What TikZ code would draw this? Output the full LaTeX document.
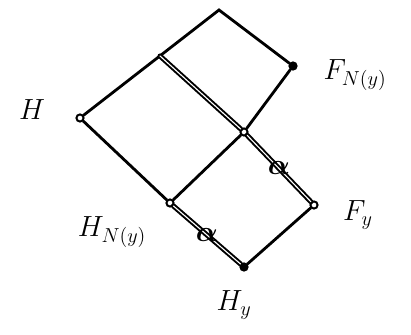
\documentclass[tikz,border=0pt]{standalone}
\usepackage{amsmath, amssymb}
\usetikzlibrary{positioning}
\tikzset{
  edge/.style={line width=2pt, line cap=round},
  markedge/.style={line width=1.4pt, line cap=round, double, double distance=0.8pt},
  vopen/.style={circle, draw, line width=1.4pt, fill=white, inner sep=1.8pt},
  vfull/.style={circle, draw, line width=1.4pt, fill=black, inner sep=1.8pt},
  vlabel/.style={font=\huge, inner sep=1pt},
  tag/.style={font=\huge\boldmath, inner sep=0pt}
}
\begin{document}
\begin{tikzpicture}[x=0.025cm, y=-0.025cm]
  \useasboundingbox (0,0) rectangle (411,334);
  % vertices
  \coordinate (top) at (219,10);
  \coordinate (p) at (160,56);
  \node[vopen] (h) at (80,118) {};
  \node[vfull] (fny) at (293,66) {};
  \node[vopen] (m) at (244,132) {};
  \node[vopen] (hny) at (170,203) {};
  \node[vopen] (fy) at (314,205) {};
  \node[vfull] (hy) at (244,267) {};
  % labels
  \node[vlabel] (lh) at (32,110) {$H$};
  \node[vlabel] (lfny) at (355,75) {$F_{N(y)}$};
  \node[vlabel] (lfy) at (358,215) {$F_y$};
  \node[vlabel] (lhny) at (112,232) {$H_{N(y)}$};
  \node[vlabel] (lhy) at (234,305) {$H_y$};
  % edges
  \draw[edge] (h) -- (top) -- (fny);
  \draw[edge] (fny) -- (m);
  \draw[edge] (h) -- (hny);
  \draw[edge] (m) -- (hny);
  \draw[edge] (fy) -- (hy);
  \draw[markedge] (p) -- (m);
  \draw[markedge] (m) -- node[tag] (am) {$\alpha$} (fy);
  \draw[markedge] (hny) -- node[tag] (ah) {$\alpha$} (hy);
\end{tikzpicture}
\end{document}
